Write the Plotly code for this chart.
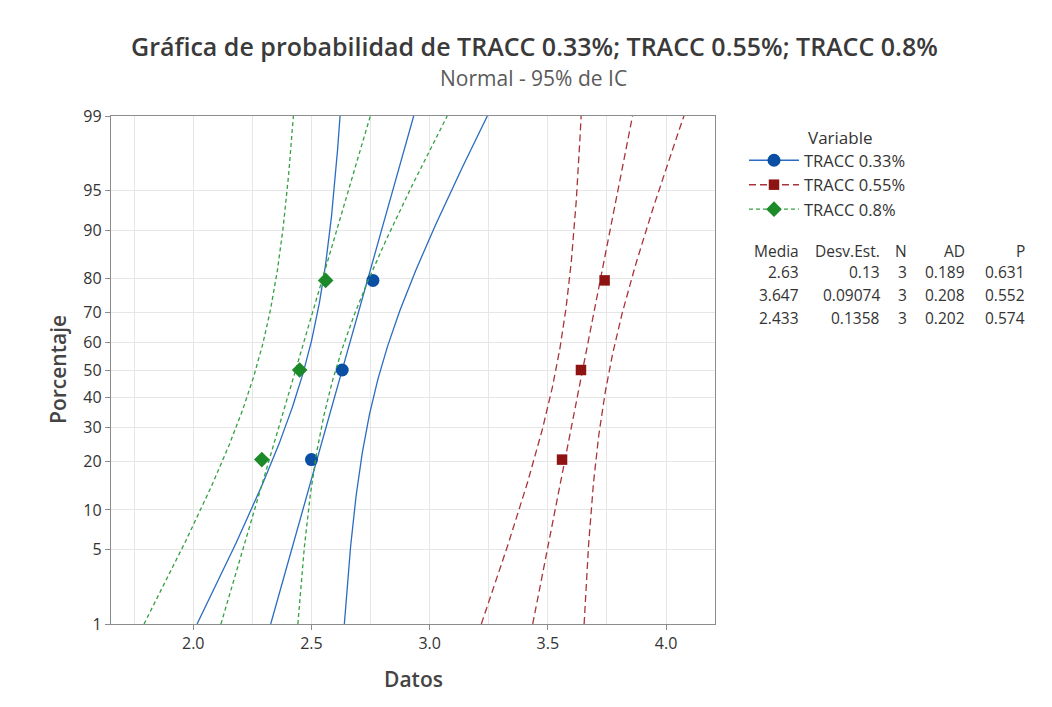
import plotly.graph_objects as go
from statistics import NormalDist

# ---------------- data ----------------
series_names = ["TRACC 0.33%", "TRACC 0.55%", "TRACC 0.8%"]
tracc_033 = [2.50, 2.63, 2.76]
tracc_055 = [3.56, 3.64, 3.74]
tracc_080 = [2.29, 2.45, 2.56]
series_values = [tracc_033, tracc_055, tracc_080]

stat_headers = ["Media", "Desv.Est.", "N", "AD", "P"]
stat_media = ["2.63", "3.647", "2.433"]
stat_desv = ["0.13", "0.09074", "0.1358"]
stat_n = ["3", "3", "3"]
stat_ad = ["0.189", "0.208", "0.202"]
stat_p = ["0.631", "0.552", "0.574"]
means = [2.63, 3.647, 2.433]
sds = [0.13, 0.09074, 0.1358]

y_tick_pct = [1, 5, 10, 20, 30, 40, 50, 60, 70, 80, 90, 95, 99]
x_tick_vals = [2.0, 2.5, 3.0, 3.5, 4.0]
x_tick_text = ["2.0", "2.5", "3.0", "3.5", "4.0"]

# ---------------- styles ----------------
line_colors = ["#2a6cc0", "#a8343a", "#34a043"]
marker_colors = ["#0a4fa3", "#8e1414", "#1d8a2a"]
dashes = ["solid", "7px,4px", "4px,3px"]
symbols = ["circle", "square", "diamond"]
msizes = [13, 10.5, 12]

nd = NormalDist()
z = nd.inv_cdf
zlo, zhi = z(0.01), z(0.99)
zgrid = [zlo + (zhi - zlo) * i / 200 for i in range(201)]
crit = 1.96 * 1.1

fig = go.Figure()
for k in range(3):
    vals = sorted(series_values[k])
    n = len(vals)
    mu, s = means[k], sds[k]
    zp = [z((i + 1 - 0.3) / (n + 0.4)) for i in range(n)]
    fit = [mu + s * q for q in zgrid]
    half = [crit * s * (1 / n + q * q / (2 * n)) ** 0.5 for q in zgrid]
    lo = [f - h for f, h in zip(fit, half)]
    hi = [f + h for f, h in zip(fit, half)]
    for xs in (lo, fit, hi):
        fig.add_trace(go.Scatter(x=xs, y=zgrid, mode="lines",
                                 line=dict(color=line_colors[k], width=1.3, dash=dashes[k]),
                                 showlegend=False, hoverinfo="skip"))
    fig.add_trace(go.Scatter(x=vals, y=zp, mode="markers",
                             marker=dict(symbol=symbols[k], size=msizes[k], color=marker_colors[k]),
                             showlegend=False))

# legend entries
for k in range(3):
    fig.add_trace(go.Scatter(x=[None], y=[None], mode="lines+markers", name=series_names[k],
                             legendgroup="g%d" % k,
                             line=dict(color=line_colors[k], width=1.4, dash=dashes[k]),
                             marker=dict(symbol=symbols[k], size=msizes[k], color=marker_colors[k])))

L, R, T, B = 111, 337, 116, 83
W, H = 1052, 707
pw, ph = W - L - R, H - T - B


def px(xp):
    return (xp - L) / pw


def py(yp):
    return (H - B - yp) / ph


font_family = "Open Sans, Noto Sans, sans-serif"
ann = []
ann.append(dict(text="Gráfica de probabilidad de TRACC 0.33%; TRACC 0.55%; TRACC 0.8%",
                x=px(534), y=py(46), xref="paper", yref="paper", showarrow=False,
                xanchor="center", yanchor="middle",
                font=dict(size=25, color="#3a3a3a", family=font_family, weight=600)))
ann.append(dict(text="Normal - 95% de IC", x=px(533), y=py(78), xref="paper", yref="paper",
                showarrow=False, xanchor="center", yanchor="middle",
                font=dict(size=21, color="#5a5a5a", family=font_family)))
ann.append(dict(text="Porcentaje", x=px(58), y=py(370), xref="paper", yref="paper",
                showarrow=False, textangle=-90, xanchor="center", yanchor="middle",
                font=dict(size=21, color="#444444", family=font_family, weight=600)))
ann.append(dict(text="Datos", x=px(413), y=py(679), xref="paper", yref="paper",
                showarrow=False, xanchor="center", yanchor="middle",
                font=dict(size=21, color="#444444", family=font_family, weight=600)))
ann.append(dict(text="Variable", x=px(806), y=py(137), xref="paper", yref="paper",
                showarrow=False, xanchor="left", yanchor="middle",
                font=dict(size=17, color="#333333", family=font_family)))

col_right = [801, 882, 909, 967, 1027]
row_y = [251, 272, 295, 318]
columns = [stat_media, stat_desv, stat_n, stat_ad, stat_p]
for c in range(5):
    ann.append(dict(text=stat_headers[c], x=px(col_right[c]), y=py(row_y[0]), xref="paper",
                    yref="paper", showarrow=False, xanchor="right", yanchor="middle",
                    font=dict(size=15.5, color="#333333", family=font_family)))
    for r in range(3):
        ann.append(dict(text=columns[c][r], x=px(col_right[c]), y=py(row_y[r + 1]), xref="paper",
                        yref="paper", showarrow=False, xanchor="right", yanchor="middle",
                        font=dict(size=15.5, color="#333333", family=font_family)))

fig.update_layout(
    width=W, height=H,
    margin=dict(l=L, r=R, t=T, b=B),
    paper_bgcolor="white", plot_bgcolor="white",
    font=dict(family=font_family, color="#333333"),
    annotations=ann,
    showlegend=True,
    legend=dict(x=px(744), y=py(143), xanchor="left", yanchor="top",
                font=dict(size=16.5, color="#333333", family=font_family),
                bgcolor="rgba(0,0,0,0)", tracegroupgap=0, itemwidth=50),
    xaxis=dict(range=[1.652, 4.207], tickvals=x_tick_vals, ticktext=x_tick_text,
               showgrid=True, gridcolor="#e6e6e6", gridwidth=1,
               minor=dict(dtick=0.25, tick0=0, showgrid=True, gridcolor="#e6e6e6", gridwidth=1),
               zeroline=False, showline=True, linecolor="#8c8c8c", linewidth=1.3, mirror=True,
               ticks="outside", ticklen=5, tickcolor="#8c8c8c",
               tickfont=dict(size=16, color="#333333")),
    yaxis=dict(range=[zlo, zhi], tickvals=[z(p / 100) for p in y_tick_pct],
               ticktext=[str(p) for p in y_tick_pct],
               showgrid=True, gridcolor="#e6e6e6", gridwidth=1,
               zeroline=False, showline=True, linecolor="#8c8c8c", linewidth=1.3, mirror=True,
               ticks="outside", ticklen=5, tickcolor="#8c8c8c",
               tickfont=dict(size=16, color="#333333")),
)

fig.write_html("out.html", config={"displayModeBar": False},
               post_script="document.body.style.margin='0';")
